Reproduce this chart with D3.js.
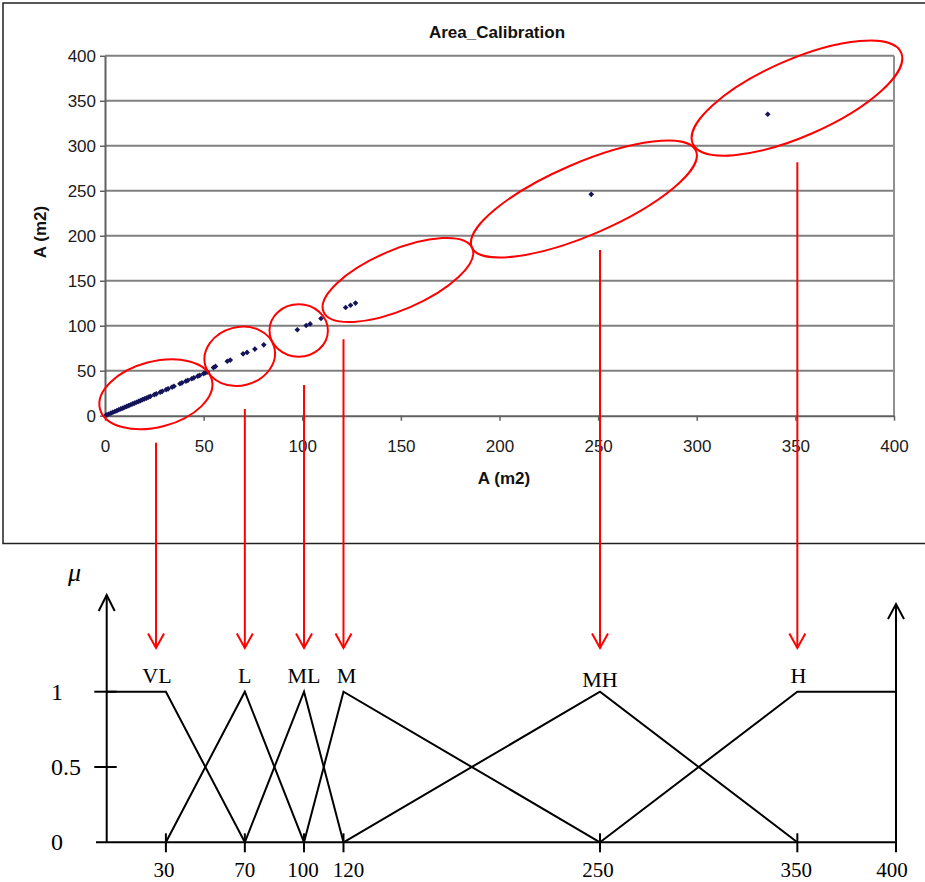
<!DOCTYPE html>
<html>
<head>
<meta charset="utf-8">
<script src="https://cdn.jsdelivr.net/npm/d3@7"></script>
<style>
  body { margin: 0; background: #fff; }
  svg { display: block; }
  .xl { font-family: Arial, "Liberation Sans", sans-serif; }
  .tm { font-family: "Times New Roman", "Liberation Serif", serif; }
</style>
</head>
<body>
<div id="chart"></div>
<script>
// --- calibration scatter: A (m2) against A (m2)
const calX = [0.5, 1, 2, 3, 4, 5, 6, 7, 8, 9, 10, 11, 12, 13, 14, 15, 16, 17, 18, 19, 20, 21, 22, 23,
  25, 26, 28, 29, 31, 32, 34, 35, 38, 39, 41, 42, 44, 45, 47, 48, 50, 51, 52,
  55, 56, 62, 63.5, 70, 72, 76, 80.5,
  97.5, 102, 104, 109.5,
  122, 124.5, 127,
  246.5, 336];
const calY = [0.5, 1, 1.9, 2.8, 3.8, 4.7, 5.6, 6.6, 7.5, 8.4, 9.4, 10.3, 11.2, 12.2, 13.1, 14, 15, 15.9, 16.8, 17.8, 18.7, 19.6, 20.6, 21.5,
  23.4, 24.3, 26.2, 27.1, 29, 29.9, 31.8, 32.7, 35.5, 36.5, 38.4, 39.3, 41.1, 42.1, 43.9, 44.9, 46.8, 47.7, 48.6,
  53.5, 54.8, 60.5, 61.8, 68.8, 70.3, 74, 78.8,
  95.5, 100.3, 102, 108,
  120.3, 122.8, 125.2,
  246, 335];
const calTicks = [0, 50, 100, 150, 200, 250, 300, 350, 400];

// groups circled in red on the scatter (centres, data units)
const groupCx = [25.8, 68.3, 98.2, 148.5, 242.8, 350.8];
const groupCy = [23.8, 66, 94.7, 150.8, 240.8, 353];

// --- fuzzy partition of the area
const termNames = ["VL", "L", "ML", "M", "MH", "H"];
const termShapes = [
  [[0, 1], [30, 1], [70, 0]],
  [[30, 0], [70, 1], [100, 0]],
  [[70, 0], [100, 1], [120, 0]],
  [[100, 0], [120, 1], [250, 0]],
  [[120, 0], [250, 1], [350, 0]],
  [[250, 0], [350, 1], [400, 1]]
];
const termArrowAt = [25, 70, 100, 120, 250, 350];
const fuzzyTicks = [30, 70, 100, 120, 250, 350, 400];
const muTicks = [0, 0.5, 1];

// layout
const W = 925, H = 882;
const ringRx = [57.8, 35.7, 29.2, 80.9, 122, 113.7];
const ringRy = [32.8, 29.2, 26.2, 29.8, 36, 38.4];
const ringRot = [-14.7, -15, 0, -23.2, -23.3, -23.6];
const arrowTop = [442.7, 409, 385, 339.3, 250, 162.3];
const arrowTip = 648;
const termLabelDx = [1, 0, 0, 3, 0, 1];
const termLabelY = [683, 683, 683, 683, 687, 683];
const tickLabelDx = [-2, 0, -1, 5, -2, -1, -4];

const svg = d3.select("#chart").append("svg")
  .attr("width", W)
  .attr("height", H);

// frame of the pasted Excel chart
svg.append("rect")
  .attr("x", 3).attr("y", 3)
  .attr("width", 960).attr("height", 540.5)
  .attr("fill", "none")
  .attr("stroke", "#222")
  .attr("stroke-width", 1.5);

const xs = d3.scaleLinear().domain([0, 400]).range([105, 894]);
const ys = d3.scaleLinear().domain([0, 400]).range([415.7, 55.8]);

// gridlines
svg.append("g").selectAll("line").data(calTicks.slice(1))
  .join("line")
  .attr("x1", xs(0)).attr("x2", xs(400))
  .attr("y1", d => ys(d)).attr("y2", d => ys(d))
  .attr("stroke", "#808080")
  .attr("stroke-width", 2);

svg.append("line")
  .attr("x1", xs(400)).attr("x2", xs(400))
  .attr("y1", ys(400)).attr("y2", ys(0))
  .attr("stroke", "#909090")
  .attr("stroke-width", 2);

const xAxis = svg.append("g")
  .attr("class", "xl")
  .attr("transform", `translate(0,${ys(0)})`)
  .call(d3.axisBottom(xs).tickValues(calTicks).tickSize(5).tickPadding(19).tickSizeOuter(0));

const yAxis = svg.append("g")
  .attr("class", "xl")
  .attr("transform", `translate(${xs(0)},0)`)
  .call(d3.axisLeft(ys).tickValues(calTicks).tickSize(5).tickPadding(4).tickSizeOuter(0));

[xAxis, yAxis].forEach(g => {
  g.select(".domain").attr("stroke", "#606060").attr("stroke-width", 2);
  g.selectAll(".tick line").attr("stroke", "#606060").attr("stroke-width", 1.5);
  g.selectAll("text")
    .attr("font-family", "Arial, 'Liberation Sans', sans-serif")
    .attr("font-size", 17)
    .attr("fill", "#1a1a1a");
});

// points
svg.append("g").selectAll("path").data(calX)
  .join("path")
  .attr("transform", (d, i) => `translate(${xs(d)},${ys(calY[i])}) rotate(45)`)
  .attr("d", d3.symbol(d3.symbolSquare, 16))
  .attr("fill", "#14145a");

// titles
svg.append("text")
  .attr("class", "xl")
  .attr("x", 497).attr("y", 38)
  .attr("text-anchor", "middle")
  .attr("font-weight", "bold")
  .attr("font-size", 17)
  .attr("fill", "#111")
  .text("Area_Calibration");

svg.append("text")
  .attr("class", "xl")
  .attr("x", 504).attr("y", 484)
  .attr("text-anchor", "middle")
  .attr("font-weight", "bold")
  .attr("font-size", 17)
  .attr("fill", "#111")
  .text("A (m2)");

svg.append("text")
  .attr("class", "xl")
  .attr("transform", "translate(46,232) rotate(-90)")
  .attr("text-anchor", "middle")
  .attr("font-weight", "bold")
  .attr("font-size", 17)
  .attr("fill", "#111")
  .text("A (m2)");

// red rings round each group
svg.append("g").selectAll("ellipse").data(groupCx)
  .join("ellipse")
  .attr("transform", (d, i) => `translate(${xs(d)},${ys(groupCy[i])}) rotate(${ringRot[i]})`)
  .attr("rx", (d, i) => ringRx[i])
  .attr("ry", (d, i) => ringRy[i])
  .attr("fill", "none")
  .attr("stroke", "#ff0000")
  .attr("stroke-width", 2);

// --- membership functions
const xb = d3.scaleLinear().domain([0, 400]).range([106.7, 896]);
const yb = d3.scaleLinear().domain([0, 1]).range([842.3, 691.7]);

const ink = "#000";

// red arrows from the rings down to the terms
const arrows = svg.append("g").attr("stroke", "#ff0000").attr("stroke-width", 2).attr("fill", "none");
arrows.selectAll("line").data(termArrowAt)
  .join("line")
  .attr("x1", d => xb(d)).attr("x2", d => xb(d))
  .attr("y1", (d, i) => arrowTop[i]).attr("y2", arrowTip);
arrows.selectAll("path").data(termArrowAt)
  .join("path")
  .attr("d", d => `M${xb(d) - 8},${arrowTip - 14.5}L${xb(d)},${arrowTip}L${xb(d) + 8},${arrowTip - 14.5}`);

// axes with arrow heads
const axes = svg.append("g").attr("stroke", ink).attr("stroke-width", 2).attr("fill", "none");
axes.append("line")
  .attr("x1", 96).attr("x2", xb(400))
  .attr("y1", yb(0)).attr("y2", yb(0));
axes.append("line")
  .attr("x1", xb(0)).attr("x2", xb(0))
  .attr("y1", yb(0)).attr("y2", 595);
axes.append("path")
  .attr("d", `M${xb(0) - 8},611L${xb(0)},595L${xb(0) + 8},611`);
axes.append("line")
  .attr("x1", xb(400)).attr("x2", xb(400))
  .attr("y1", yb(0) + 10).attr("y2", 604);
axes.append("path")
  .attr("d", `M${xb(400) - 8},619L${xb(400)},604L${xb(400) + 8},619`);

axes.selectAll("line.mt").data(muTicks.slice(1))
  .join("line")
  .attr("class", "mt")
  .attr("x1", 94.3).attr("x2", 116.7)
  .attr("y1", d => yb(d)).attr("y2", d => yb(d));

axes.selectAll("line.ft").data(fuzzyTicks.slice(0, -1))
  .join("line")
  .attr("class", "ft")
  .attr("x1", d => xb(d)).attr("x2", d => xb(d))
  .attr("y1", yb(0) - 9).attr("y2", yb(0) + 10);

const line = d3.line().x(d => xb(d[0])).y(d => yb(d[1]));
svg.append("g").selectAll("path").data(termShapes)
  .join("path")
  .attr("d", line)
  .attr("fill", "none")
  .attr("stroke", ink)
  .attr("stroke-width", 2)
  .attr("stroke-linejoin", "miter");

// labels
svg.append("g").selectAll("text").data(termNames)
  .join("text")
  .attr("class", "tm")
  .attr("x", (d, i) => xb(termArrowAt[i]) + termLabelDx[i])
  .attr("y", (d, i) => termLabelY[i])
  .attr("text-anchor", "middle")
  .attr("font-size", 22)
  .text(d => d);

svg.append("g").selectAll("text").data(fuzzyTicks)
  .join("text")
  .attr("class", "tm")
  .attr("x", (d, i) => xb(d) + tickLabelDx[i])
  .attr("y", 877)
  .attr("text-anchor", "middle")
  .attr("font-size", 21)
  .text(d => d);

svg.append("g").selectAll("text").data(muTicks)
  .join("text")
  .attr("class", "tm")
  .attr("x", 51)
  .attr("y", d => yb(d) + 8)
  .attr("font-size", 24)
  .text(d => d);

svg.append("text")
  .attr("class", "tm")
  .attr("x", 68).attr("y", 581)
  .attr("font-size", 26)
  .attr("font-style", "italic")
  .text("\u03bc");
</script>
</body>
</html>
